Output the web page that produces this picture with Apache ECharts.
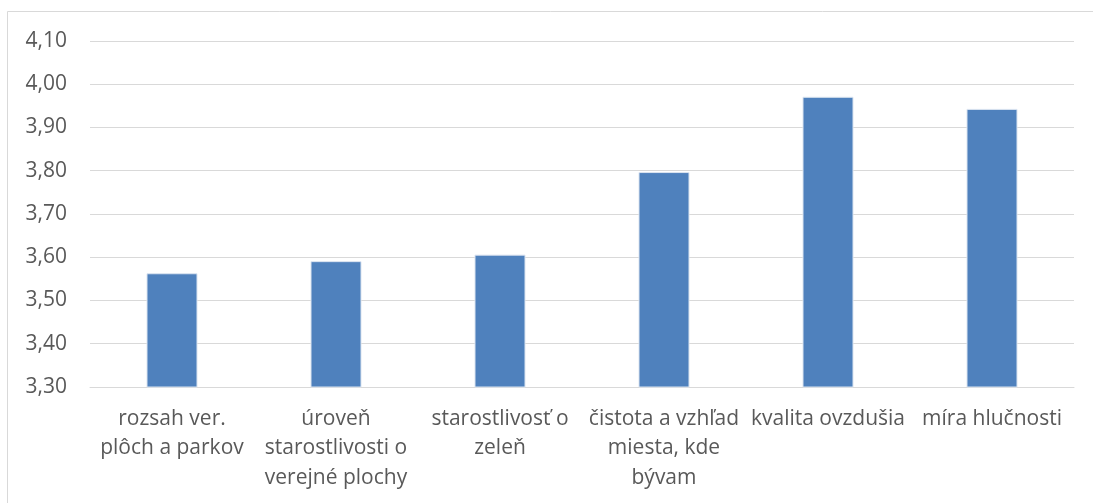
<!DOCTYPE html>
<html>
<head>
<meta charset="utf-8">
<script src="https://cdn.jsdelivr.net/npm/echarts@6/dist/echarts.min.js"></script>
<style>
  html, body { margin: 0; padding: 0; background: #fff; }
  #chart { width: 1093px; height: 503px; }
</style>
</head>
<body>
<div id="chart"></div>
<script>
  // kategórie (zalomené ako v pôvodnom grafe)
  var categories = [
    'rozsah ver.\nplôch a parkov',
    'úroveň\nstarostlivosti o\nverejné plochy',
    'starostlivosť o\nzeleň',
    'čistota a vzhľad\nmiesta, kde\nbývam',
    'kvalita ovzdušia',
    'míra hlučnosti'
  ];
  var values = [3.563, 3.591, 3.606, 3.797, 3.971, 3.943];
  var yMin = 3.3, yMax = 4.1, yStep = 0.1;

  var chart = echarts.init(document.getElementById('chart'));
  var font = '"Open Sans", "Noto Sans", sans-serif';

  var option = {
    animation: false,
    backgroundColor: '#fff',
    graphic: [{
      type: 'rect',
      shape: { x: 7.5, y: 11.5, width: 1200, height: 600 },
      style: { fill: 'none', stroke: '#d9d9d9', lineWidth: 1 },
      silent: true
    }],
    grid: {
      left: 90,
      right: 19,
      top: 41,
      bottom: 116
    },
    xAxis: {
      type: 'category',
      data: categories,
      axisTick: { show: false },
      axisLine: { lineStyle: { color: '#d9d9d9', width: 1 } },
      axisLabel: {
        interval: 0,
        color: '#595959',
        fontFamily: font,
        fontSize: 21,
        lineHeight: 29.5,
        margin: 17
      }
    },
    yAxis: {
      type: 'value',
      min: yMin,
      max: yMax,
      interval: yStep,
      axisLine: { show: false },
      axisTick: { show: false },
      splitLine: { lineStyle: { color: '#d9d9d9', width: 1 } },
      axisLabel: {
        color: '#595959',
        fontFamily: font,
        fontSize: 21,
        margin: 23,
        formatter: function (v) {
          return v.toFixed(2).replace('.', ',');
        }
      }
    },
    series: [{
      type: 'bar',
      data: values,
      barWidth: 51,
      itemStyle: {
        color: '#4f81bd',
        borderColor: '#dbe4f0',
        borderWidth: 1
      }
    }]
  };

  chart.setOption(option, true);
  window.addEventListener('resize', function () {
    chart.resize();
  });
</script>
</body>
</html>
